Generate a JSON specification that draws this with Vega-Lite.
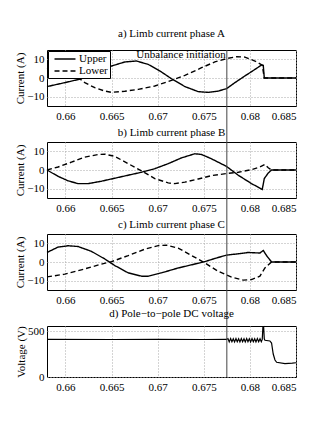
{
  "$schema": "https://vega.github.io/schema/vega-lite/v6.json",
  "padding": {"left": 14, "top": 27, "right": 5, "bottom": 5},
  "bounds": "flush",
  "spacing": 36,
  "datasets": {
    "event": [{"t": 0.6775, "label": "Unbalance initiation"}],
    "phaseA": [
      {"series": "Upper", "t": 0.658, "v": -4.6},
      {"series": "Upper", "t": 0.65993, "v": -2.5},
      {"series": "Upper", "t": 0.66174, "v": -0.4},
      {"series": "Upper", "t": 0.66318, "v": 2.9},
      {"series": "Upper", "t": 0.66499, "v": 6.4},
      {"series": "Upper", "t": 0.66644, "v": 8.6},
      {"series": "Upper", "t": 0.6677, "v": 9.1},
      {"series": "Upper", "t": 0.66897, "v": 7.3},
      {"series": "Upper", "t": 0.67042, "v": 3.2},
      {"series": "Upper", "t": 0.6715, "v": -0.4},
      {"series": "Upper", "t": 0.67295, "v": -4.6},
      {"series": "Upper", "t": 0.6744, "v": -7.3},
      {"series": "Upper", "t": 0.67548, "v": -7.7},
      {"series": "Upper", "t": 0.67657, "v": -7.0},
      {"series": "Upper", "t": 0.67747, "v": -5.7},
      {"series": "Upper", "t": 0.67837, "v": -2.5},
      {"series": "Upper", "t": 0.67946, "v": 1.1},
      {"series": "Upper", "t": 0.68055, "v": 4.6},
      {"series": "Upper", "t": 0.68127, "v": 7.0},
      {"series": "Upper", "t": 0.68145, "v": 6.8},
      {"series": "Upper", "t": 0.68156, "v": 0},
      {"series": "Upper", "t": 0.685, "v": 0},
      {"series": "Lower", "t": 0.658, "v": 5.5},
      {"series": "Lower", "t": 0.65993, "v": 2.8},
      {"series": "Lower", "t": 0.66137, "v": 0.2},
      {"series": "Lower", "t": 0.6621, "v": -2.5},
      {"series": "Lower", "t": 0.66318, "v": -5.2},
      {"series": "Lower", "t": 0.66427, "v": -7.0},
      {"series": "Lower", "t": 0.66499, "v": -7.7},
      {"series": "Lower", "t": 0.66644, "v": -7.1},
      {"series": "Lower", "t": 0.66789, "v": -6.1},
      {"series": "Lower", "t": 0.66969, "v": -4.3},
      {"series": "Lower", "t": 0.6715, "v": -1.25},
      {"series": "Lower", "t": 0.67295, "v": 1.4},
      {"series": "Lower", "t": 0.67476, "v": 5.5},
      {"series": "Lower", "t": 0.6762, "v": 8.6},
      {"series": "Lower", "t": 0.67747, "v": 10.4},
      {"series": "Lower", "t": 0.67856, "v": 11.4},
      {"series": "Lower", "t": 0.67946, "v": 11.2},
      {"series": "Lower", "t": 0.68055, "v": 9.1},
      {"series": "Lower", "t": 0.68134, "v": 6.9},
      {"series": "Lower", "t": 0.68156, "v": 0},
      {"series": "Lower", "t": 0.685, "v": 0}
    ],
    "phaseB": [
      {"series": "Upper", "t": 0.658, "v": 0},
      {"series": "Upper", "t": 0.6592, "v": -3.4},
      {"series": "Upper", "t": 0.66029, "v": -5.8},
      {"series": "Upper", "t": 0.66137, "v": -7.3},
      {"series": "Upper", "t": 0.66246, "v": -7.3},
      {"series": "Upper", "t": 0.66391, "v": -6.0},
      {"series": "Upper", "t": 0.66535, "v": -4.4},
      {"series": "Upper", "t": 0.6668, "v": -2.8},
      {"series": "Upper", "t": 0.66825, "v": -1.2},
      {"series": "Upper", "t": 0.66969, "v": 0.7},
      {"series": "Upper", "t": 0.67114, "v": 3.4},
      {"series": "Upper", "t": 0.67259, "v": 6.5},
      {"series": "Upper", "t": 0.67403, "v": 8.7},
      {"series": "Upper", "t": 0.67476, "v": 8.3},
      {"series": "Upper", "t": 0.67584, "v": 6.0},
      {"series": "Upper", "t": 0.67747, "v": 1.9},
      {"series": "Upper", "t": 0.67874, "v": -2.8},
      {"series": "Upper", "t": 0.68018, "v": -7.3},
      {"series": "Upper", "t": 0.68134, "v": -10.4},
      {"series": "Upper", "t": 0.68156, "v": -4.6},
      {"series": "Upper", "t": 0.68199, "v": -1.6},
      {"series": "Upper", "t": 0.68235, "v": 0},
      {"series": "Upper", "t": 0.685, "v": 0},
      {"series": "Lower", "t": 0.658, "v": 0},
      {"series": "Lower", "t": 0.6592, "v": 1.6},
      {"series": "Lower", "t": 0.66065, "v": 4.2},
      {"series": "Lower", "t": 0.6621, "v": 6.9},
      {"series": "Lower", "t": 0.66355, "v": 8.3},
      {"series": "Lower", "t": 0.66427, "v": 8.5},
      {"series": "Lower", "t": 0.66535, "v": 7.3},
      {"series": "Lower", "t": 0.6668, "v": 3.4},
      {"series": "Lower", "t": 0.66825, "v": -0.5},
      {"series": "Lower", "t": 0.66969, "v": -4.6},
      {"series": "Lower", "t": 0.67114, "v": -6.9},
      {"series": "Lower", "t": 0.67186, "v": -7.3},
      {"series": "Lower", "t": 0.67295, "v": -6.5},
      {"series": "Lower", "t": 0.6744, "v": -4.8},
      {"series": "Lower", "t": 0.67584, "v": -3.0},
      {"series": "Lower", "t": 0.67747, "v": -1.9},
      {"series": "Lower", "t": 0.67874, "v": -1.2},
      {"series": "Lower", "t": 0.68018, "v": 0.2},
      {"series": "Lower", "t": 0.68109, "v": 1.6},
      {"series": "Lower", "t": 0.68163, "v": 3.0},
      {"series": "Lower", "t": 0.68199, "v": 1.2},
      {"series": "Lower", "t": 0.68235, "v": 0},
      {"series": "Lower", "t": 0.685, "v": 0}
    ],
    "phaseC": [
      {"series": "Upper", "t": 0.658, "v": 5.1},
      {"series": "Upper", "t": 0.6592, "v": 8.0},
      {"series": "Upper", "t": 0.66029, "v": 8.7},
      {"series": "Upper", "t": 0.66137, "v": 8.3},
      {"series": "Upper", "t": 0.66282, "v": 5.7},
      {"series": "Upper", "t": 0.66427, "v": 1.6},
      {"series": "Upper", "t": 0.66535, "v": -1.9},
      {"series": "Upper", "t": 0.6668, "v": -5.8},
      {"series": "Upper", "t": 0.66825, "v": -7.6},
      {"series": "Upper", "t": 0.66897, "v": -7.6},
      {"series": "Upper", "t": 0.67042, "v": -5.8},
      {"series": "Upper", "t": 0.67223, "v": -3.2},
      {"series": "Upper", "t": 0.67403, "v": -1.1},
      {"series": "Upper", "t": 0.67512, "v": 0.2},
      {"series": "Upper", "t": 0.6762, "v": 1.9},
      {"series": "Upper", "t": 0.67747, "v": 3.7},
      {"series": "Upper", "t": 0.67874, "v": 4.4},
      {"series": "Upper", "t": 0.67982, "v": 5.1},
      {"series": "Upper", "t": 0.68109, "v": 4.8},
      {"series": "Upper", "t": 0.68145, "v": 6.2},
      {"series": "Upper", "t": 0.68181, "v": 3.4},
      {"series": "Upper", "t": 0.68235, "v": 0},
      {"series": "Upper", "t": 0.685, "v": 0},
      {"series": "Lower", "t": 0.658, "v": -8.0},
      {"series": "Lower", "t": 0.65993, "v": -6.5},
      {"series": "Lower", "t": 0.6621, "v": -3.7},
      {"series": "Lower", "t": 0.66391, "v": -1.1},
      {"series": "Lower", "t": 0.66499, "v": 0.2},
      {"series": "Lower", "t": 0.6668, "v": 3.4},
      {"series": "Lower", "t": 0.66861, "v": 6.9},
      {"series": "Lower", "t": 0.67006, "v": 8.8},
      {"series": "Lower", "t": 0.67096, "v": 9.0},
      {"series": "Lower", "t": 0.67223, "v": 7.4},
      {"series": "Lower", "t": 0.67367, "v": 3.5},
      {"series": "Lower", "t": 0.67512, "v": -0.5},
      {"series": "Lower", "t": 0.67657, "v": -5.0},
      {"series": "Lower", "t": 0.67801, "v": -8.1},
      {"series": "Lower", "t": 0.67928, "v": -9.7},
      {"series": "Lower", "t": 0.68018, "v": -9.4},
      {"series": "Lower", "t": 0.68109, "v": -7.6},
      {"series": "Lower", "t": 0.68163, "v": -3.2},
      {"series": "Lower", "t": 0.68235, "v": 0},
      {"series": "Lower", "t": 0.685, "v": 0}
    ],
    "dcVoltage": [
      {"t": 0.658, "v": 409}, {"t": 0.665, "v": 408}, {"t": 0.67, "v": 409},
      {"t": 0.675, "v": 408}, {"t": 0.67747, "v": 409},
      {"t": 0.67762, "v": 418}, {"t": 0.67776, "v": 382}, {"t": 0.67791, "v": 418},
      {"t": 0.67805, "v": 384}, {"t": 0.6782, "v": 417}, {"t": 0.67834, "v": 382},
      {"t": 0.67849, "v": 418}, {"t": 0.67863, "v": 383}, {"t": 0.67878, "v": 417},
      {"t": 0.67892, "v": 382}, {"t": 0.67907, "v": 418}, {"t": 0.67921, "v": 384},
      {"t": 0.67936, "v": 417}, {"t": 0.6795, "v": 382}, {"t": 0.67965, "v": 418},
      {"t": 0.67979, "v": 383}, {"t": 0.67994, "v": 417}, {"t": 0.68008, "v": 382},
      {"t": 0.68023, "v": 418}, {"t": 0.68037, "v": 384}, {"t": 0.68052, "v": 417},
      {"t": 0.68066, "v": 382}, {"t": 0.68081, "v": 418}, {"t": 0.68095, "v": 383},
      {"t": 0.6811, "v": 417}, {"t": 0.68124, "v": 385}, {"t": 0.68134, "v": 409},
      {"t": 0.68141, "v": 540}, {"t": 0.68149, "v": 545}, {"t": 0.68156, "v": 415},
      {"t": 0.68163, "v": 400}, {"t": 0.68217, "v": 392}, {"t": 0.68235, "v": 370},
      {"t": 0.68253, "v": 250}, {"t": 0.68272, "v": 185}, {"t": 0.6829, "v": 160},
      {"t": 0.6838, "v": 145}, {"t": 0.6846, "v": 150}, {"t": 0.685, "v": 155}
    ]
  },
  "vconcat": [
    {
      "title": {"text": "a) Limb current phase A", "offset": 10},
      "width": 249,
      "height": 56,
      "layer": [
        {
          "data": {"name": "phaseA"},
          "mark": {"type": "line", "color": "black", "strokeWidth": 1.4},
          "encoding": {
            "x": {"field": "t", "type": "quantitative", "scale": {"domain": [0.658, 0.685], "nice": false, "zero": false},
                  "axis": {"title": null, "values": [0.66, 0.665, 0.67, 0.675, 0.68, 0.685], "tickCount": 10, "format": "~g"}},
            "y": {"field": "v", "type": "quantitative", "scale": {"domain": [-15, 15], "nice": false},
                  "axis": {"title": "Current (A)", "values": [-10, 0, 10], "tickCount": 5}},
            "strokeDash": {"field": "series", "type": "nominal",
                           "scale": {"domain": ["Upper", "Lower"], "range": [[1, 0], [5, 3]]},
                           "legend": {"title": null, "orient": "top-left", "offset": 1, "symbolType": "M-2,0L2,0", "symbolSize": 110,
                                      "padding": 2, "symbolOffset": 9, "labelOffset": 8, "rowPadding": 1}}
          }
        },
        {
          "data": {"name": "event"},
          "mark": {"type": "rule", "color": "#444", "strokeWidth": 1},
          "encoding": {"x": {"field": "t", "type": "quantitative"}, "y": {"datum": 15}, "y2": {"datum": -34.29}}
        },
        {
          "data": {"name": "event"},
          "mark": {"type": "text", "align": "right", "baseline": "middle", "dx": -1, "fontSize": 11, "color": "black"},
          "encoding": {"x": {"field": "t", "type": "quantitative"}, "y": {"datum": 12.1}, "text": {"field": "label"}}
        }
      ]
    },
    {
      "title": {"text": "b) Limb current phase B", "offset": 4},
      "width": 249,
      "height": 56,
      "layer": [
        {
          "data": {"name": "phaseB"},
          "mark": {"type": "line", "color": "black", "strokeWidth": 1.4},
          "encoding": {
            "x": {"field": "t", "type": "quantitative", "scale": {"domain": [0.658, 0.685], "nice": false, "zero": false},
                  "axis": {"title": null, "values": [0.66, 0.665, 0.67, 0.675, 0.68, 0.685], "tickCount": 10, "format": "~g"}},
            "y": {"field": "v", "type": "quantitative", "scale": {"domain": [-15, 15], "nice": false},
                  "axis": {"title": "Current (A)", "values": [-10, 0, 10], "tickCount": 5}},
            "strokeDash": {"field": "series", "type": "nominal",
                           "scale": {"domain": ["Upper", "Lower"], "range": [[1, 0], [5, 3]]},
                           "legend": null}
          }
        },
        {
          "data": {"name": "event"},
          "mark": {"type": "rule", "color": "#444", "strokeWidth": 1},
          "encoding": {"x": {"field": "t", "type": "quantitative"}, "y": {"datum": 15}, "y2": {"datum": -34.29}}
        }
      ]
    },
    {
      "title": {"text": "c) Limb current phase C", "offset": 4},
      "width": 249,
      "height": 56,
      "layer": [
        {
          "data": {"name": "phaseC"},
          "mark": {"type": "line", "color": "black", "strokeWidth": 1.4},
          "encoding": {
            "x": {"field": "t", "type": "quantitative", "scale": {"domain": [0.658, 0.685], "nice": false, "zero": false},
                  "axis": {"title": null, "values": [0.66, 0.665, 0.67, 0.675, 0.68, 0.685], "tickCount": 10, "format": "~g"}},
            "y": {"field": "v", "type": "quantitative", "scale": {"domain": [-15, 15], "nice": false},
                  "axis": {"title": "Current (A)", "values": [-10, 0, 10], "tickCount": 5}},
            "strokeDash": {"field": "series", "type": "nominal",
                           "scale": {"domain": ["Upper", "Lower"], "range": [[1, 0], [5, 3]]},
                           "legend": null}
          }
        },
        {
          "data": {"name": "event"},
          "mark": {"type": "rule", "color": "#444", "strokeWidth": 1},
          "encoding": {"x": {"field": "t", "type": "quantitative"}, "y": {"datum": 15}, "y2": {"datum": -34.29}}
        }
      ]
    },
    {
      "title": {"text": "d) Pole\u2212to\u2212pole DC voltage", "offset": 6},
      "width": 249,
      "height": 51,
      "layer": [
        {
          "data": {"name": "dcVoltage"},
          "mark": {"type": "line", "color": "black", "strokeWidth": 1.2},
          "encoding": {
            "x": {"field": "t", "type": "quantitative", "scale": {"domain": [0.658, 0.685], "nice": false, "zero": false},
                  "axis": {"title": null, "values": [0.66, 0.665, 0.67, 0.675, 0.68, 0.685], "tickCount": 10, "format": "~g"}},
            "y": {"field": "v", "type": "quantitative", "scale": {"domain": [0, 555], "nice": false},
                  "axis": {"title": "Voltage (V)", "values": [0, 500], "tickCount": 5}}
          }
        },
        {
          "data": {"name": "event"},
          "mark": {"type": "rule", "color": "#444", "strokeWidth": 1},
          "encoding": {"x": {"field": "t", "type": "quantitative"}}
        }
      ]
    }
  ],
  "config": {
    "font": "Liberation Serif, Times New Roman, serif",
    "view": {"stroke": "black", "strokeWidth": 1},
    "text": {"font": "Liberation Serif, Times New Roman, serif"},
    "axis": {
      "labelFont": "Liberation Serif, Times New Roman, serif", "labelFontSize": 11, "labelColor": "black", "labelPadding": 3,
      "labelOverlap": false,
      "titleFont": "Liberation Serif, Times New Roman, serif", "titleFontSize": 11, "titleFontWeight": "normal", "titleColor": "black", "titlePadding": 1,
      "grid": true, "gridColor": "#a8a8a8", "gridDash": [1, 2], "gridWidth": 1,
      "domain": false, "ticks": false
    },
    "axisX": {"labelPadding": 4},
    "title": {"font": "Liberation Serif, Times New Roman, serif", "fontSize": 11, "fontWeight": "normal", "color": "black", "frame": "group", "anchor": "middle"},
    "legend": {
      "fillColor": "white", "strokeColor": "black",
      "symbolStrokeWidth": 1.5, "symbolStrokeColor": "black",
      "labelFont": "Liberation Serif, Times New Roman, serif", "labelFontSize": 11, "labelColor": "black"
    }
  }
}
